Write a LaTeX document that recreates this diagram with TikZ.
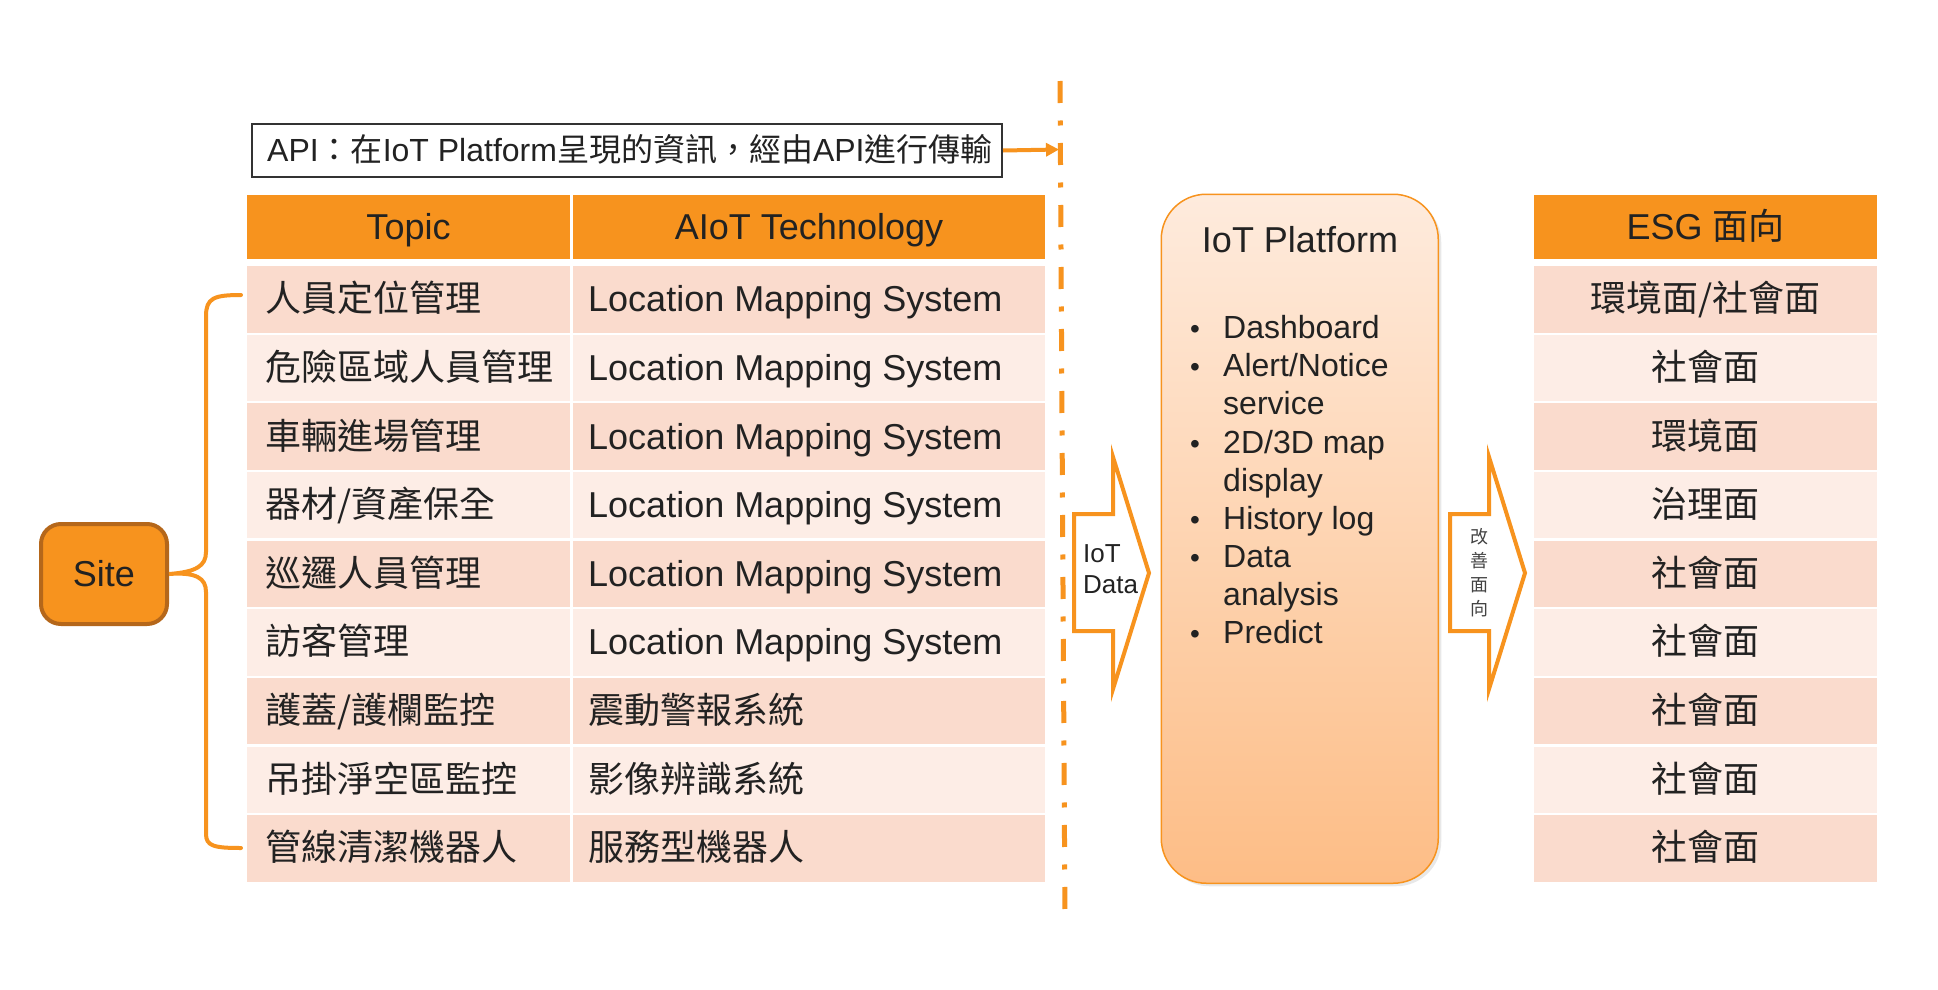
\documentclass[tikz,border=0pt]{standalone}
\usepackage{fontspec}
\setmainfont{Liberation Sans}
\newfontfamily\cjk{Noto Sans CJK TC}
\usetikzlibrary{arrows.meta,shadows}
\definecolor{org}{HTML}{F7931E}
\definecolor{orgdark}{HTML}{B5671A}
\definecolor{rowA}{HTML}{FADBCD}
\definecolor{rowB}{HTML}{FDEDE6}
\definecolor{txt}{HTML}{222222}
\definecolor{apigray}{HTML}{333333}
\definecolor{platTop}{HTML}{FEEBDD}
\definecolor{platBot}{HTML}{FDBD86}
\newcommand{\myfs}[2]{\fontsize{#1}{#2}\selectfont}
\newcommand{\mkrow}[6]{%
  \node[cellbox, fill=#3, minimum width=323] (t#1) at (247,#2) {};
  \node[celltxt, anchor=west] (tt#1) at ([xshift=18]t#1.west) {#4};
  \node[cellbox, fill=#3, minimum width=472] (s#1) at (573,#2) {};
  \node[celltxt, anchor=west] (st#1) at ([xshift=15]s#1.west) {#5};
  \node[cellbox, fill=#3, minimum width=343] (e#1) at (1534,#2) {};
  \node[celltxt] (et#1) at (e#1.center) {#6};
}
\begin{document}
\begin{tikzpicture}[x=1pt,y=-1pt,
  cellbox/.style={anchor=north west, minimum height=66.5, inner sep=0, outer sep=0, draw=none},
  hdbox/.style={anchor=north west, minimum height=64, inner sep=0, outer sep=0, draw=none, fill=org},
  celltxt/.style={inner sep=0, text height=25, text depth=0, font=\myfs{36}{40}, text=txt},
  btxt/.style={anchor=base west, inner sep=0, font=\myfs{32}{36}, text=txt},
  bdot/.style={anchor=base, inner sep=0, font=\myfs{28}{32}, text=txt},
  blockarrow/.style={draw=org, line width=4, fill=white, line join=miter}
]
\fill[white] (0,0) rectangle (1938,990);
\useasboundingbox (0,0) rectangle (1938,990);

% API box
\node[draw=apigray, line width=2, fill=white, minimum width=750, minimum height=53,
      anchor=north west, inner sep=0] (api) at (251,123) {};
\node[inner sep=0, anchor=west, text height=22, text depth=0, font=\myfs{32}{35}, text=txt]
  (apit) at ([xshift=16]api.west)
  {API{\cjk ：在}IoT Platform{\cjk 呈現的資訊，經由}API{\cjk 進行傳輸}};

% dashed divider
\coordinate (dtop) at (1060,81);
\coordinate (dbot) at (1065,925);
\draw[org, line width=5, dash pattern=on 22pt off 17.5pt on 5pt off 17.5pt] (dtop) -- (dbot);
\coordinate (apiend) at (1059,149.5);
\draw[org, line width=4, -{Triangle[length=13,width=13]}] (api.east) -- (apiend);

% headers
\node[hdbox, minimum width=323] (h1) at (247,195) {};
\node[celltxt] (h1t) at (h1.center) {Topic};
\node[hdbox, minimum width=472] (h2) at (573,195) {};
\node[celltxt] (h2t) at (h2.center) {AIoT Technology};
\node[hdbox, minimum width=343] (h3) at (1534,195) {};
\node[celltxt] (h3t) at (h3.center) {ESG {\cjk 面向}};

% rows
\mkrow{1}{266}{rowA}{\cjk 人員定位管理}{Location Mapping System}{\cjk 環境面/社會面}
\mkrow{2}{334.6}{rowB}{\cjk 危險區域人員管理}{Location Mapping System}{\cjk 社會面}
\mkrow{3}{403.3}{rowA}{\cjk 車輛進場管理}{Location Mapping System}{\cjk 環境面}
\mkrow{4}{471.9}{rowB}{\cjk 器材/資產保全}{Location Mapping System}{\cjk 治理面}
\mkrow{5}{540.6}{rowA}{\cjk 巡邏人員管理}{Location Mapping System}{\cjk 社會面}
\mkrow{6}{609.2}{rowB}{\cjk 訪客管理}{Location Mapping System}{\cjk 社會面}
\mkrow{7}{677.9}{rowA}{\cjk 護蓋/護欄監控}{\cjk 震動警報系統}{\cjk 社會面}
\mkrow{8}{746.5}{rowB}{\cjk 吊掛淨空區監控}{\cjk 影像辨識系統}{\cjk 社會面}
\mkrow{9}{815.2}{rowA}{\cjk 管線清潔機器人}{\cjk 服務型機器人}{\cjk 社會面}

% Site box and brace
\node[draw=orgdark, line width=4, fill=org, rounded corners=20, minimum width=126,
      minimum height=100, inner sep=0, font=\myfs{36}{40}, text=txt] (site) at (104,574) {Site};
\coordinate (bt) at (241,295);
\coordinate (bb) at (241,848);
\draw[org, line width=4, line cap=round]
  (bt) .. controls (214,295) and (206,298) .. (206,316)
  -- (206,552)
  .. controls (206,566) and (196,572) .. (site.east)
  .. controls (196,572) and (206,578) .. (206,592)
  -- (206,834)
  .. controls (206,846) and (214,848) .. (bb);

% IoT Platform box
\node[draw=org, line width=1.5, rounded corners=45, top color=platTop, bottom color=platBot,
      minimum width=277, minimum height=689, anchor=north west, inner sep=0,
      drop shadow={opacity=0.18, shadow xshift=3pt, shadow yshift=-3pt}] (plat) at (1160.5,193.5) {};
\node[anchor=base, inner sep=0, font=\myfs{36}{40}, text=txt] (ptitle) at (1300,252) {IoT Platform};
\node[bdot] (d1) at (1195,338) {•};
\node[btxt] (l1) at (1223,338) {Dashboard};
\node[bdot] (d2) at (1195,376) {•};
\node[btxt] (l2) at (1223,376) {Alert/Notice};
\node[btxt] (l3) at (1223,414) {service};
\node[bdot] (d4) at (1195,453) {•};
\node[btxt] (l4) at (1223,453) {2D/3D map};
\node[btxt] (l5) at (1223,491) {display};
\node[bdot] (d6) at (1195,529) {•};
\node[btxt] (l6) at (1223,529) {History log};
\node[bdot] (d7) at (1195,567) {•};
\node[btxt] (l7) at (1223,567) {Data};
\node[btxt] (l8) at (1223,605) {analysis};
\node[bdot] (d9) at (1195,643) {•};
\node[btxt] (l9) at (1223,643) {Predict};

% block arrow 1 (IoT Data)
\draw[blockarrow] (1074,514) -- (1113,514) -- (1113,457) -- (1149,573) -- (1113,689)
  -- (1113,631) -- (1074,631) -- cycle;
\node[anchor=base west, inner sep=0, font=\myfs{26}{30}, text=txt] (id1) at (1083,562) {IoT};
\node[anchor=base west, inner sep=0, font=\myfs{26}{30}, text=txt] (id2) at (1083,593) {Data};

% block arrow 2 (改善面向)
\draw[blockarrow] (1450,514) -- (1489,514) -- (1489,457) -- (1525,573) -- (1489,689)
  -- (1489,631) -- (1450,631) -- cycle;
\node[inner sep=0, align=center, font=\cjk\myfs{18}{24}, text=txt!85] (vt) at (1479,573) {改\\善\\面\\向};
\end{tikzpicture}
\end{document}
